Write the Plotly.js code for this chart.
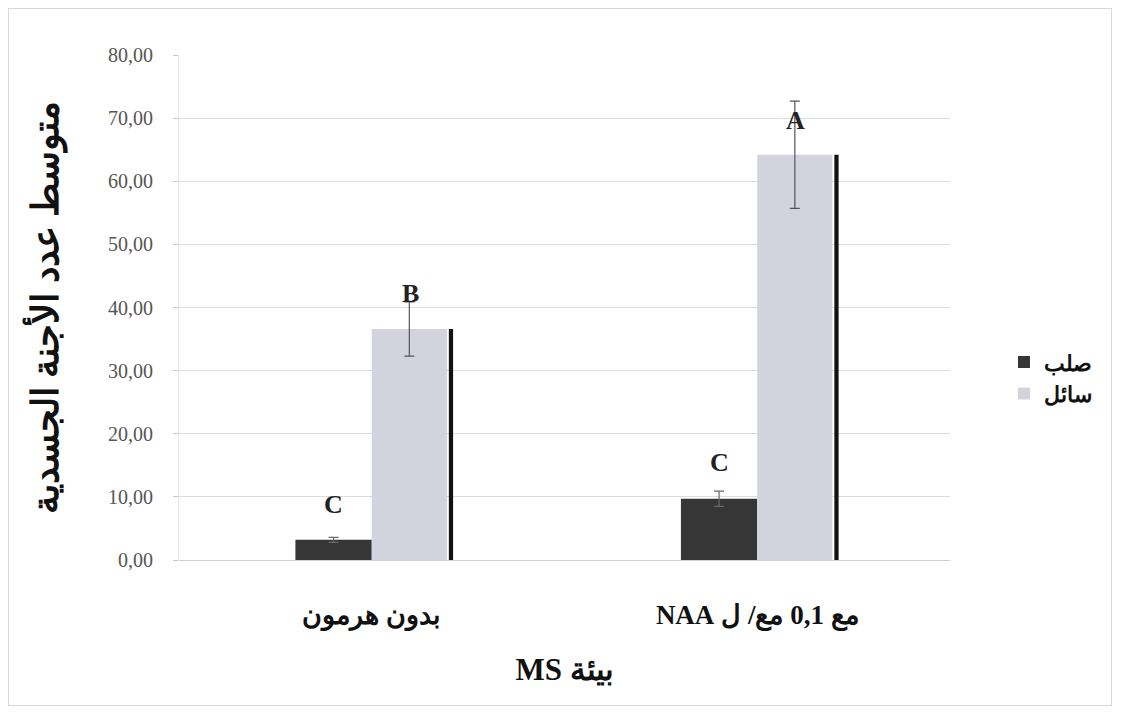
<!DOCTYPE html>
<html>
<head>
<meta charset="utf-8">
<script src="https://cdn.plot.ly/plotly-3.0.1.min.js"></script>
<style>
  html, body { margin: 0; padding: 0; background: #ffffff; }
  #wrap { position: relative; width: 1122px; height: 716px; overflow: hidden; }
  #chart { width: 1122px; height: 716px; }
  #frame { position: absolute; left: 8px; top: 8px; width: 1104px; height: 698px;
           border: 1px solid #d8d8d8; pointer-events: none; box-sizing: border-box; }
</style>
</head>
<body>
<div id="wrap">
  <div id="chart"></div>
  <div id="frame"></div>
</div>
<script>
// ---- data ----
const RLE = "\u202B", PDF = "\u202C";
const categories = ["بدون هرمون", "مع 0,1 مع/ ل NAA"];
const seriesNames = ["صلب", "سائل"];
const solidMeans = [3.2, 9.7];
const solidErr = [0.4, 1.2];
const liquidMeans = [36.6, 64.2];
const liquidErr = [4.3, 8.5];
const solidLetters = ["C", "C"];
const liquidLetters = ["B", "A"];
const yTitle = "متوسط عدد الأجنة الجسدية";
const xTitle = "بيئة MS";

// ---- styles ----
const rtl = s => RLE + s + PDF;
const serif = "Liberation Serif, Times New Roman, DejaVu Serif, serif";
const solidShift = [16, 12];
const liquidShift = [-8, -36];

const cats = categories.map(rtl);

const traces = [
  {
    type: "bar", name: rtl(seriesNames[0]), x: cats, y: solidMeans,
    width: 0.198, offset: -0.198,
    marker: { color: "#363636" },
    error_y: { type: "data", array: solidErr, visible: true, color: "#6a6a6a", thickness: 1.2, width: 5 },
    hoverinfo: "y"
  },
  {
    type: "bar", name: rtl(seriesNames[1]), x: cats, y: liquidMeans,
    width: 0.195, offset: 0.0,
    marker: { color: "#d3d3de" },
    error_y: { type: "data", array: liquidErr, visible: true, color: "#555555", thickness: 1.2, width: 5 },
    hoverinfo: "y"
  },
  {
    type: "bar", name: "", x: cats, y: liquidMeans, showlegend: false,
    width: 0.011, offset: 0.2,
    marker: { color: "#111111" },
    hoverinfo: "skip"
  }
];

const annotations = [];
categories.forEach((c, i) => {
  annotations.push({
    x: cats[i], y: solidMeans[i] + solidErr[i], xref: "x", yref: "y",
    text: solidLetters[i], showarrow: false, xshift: -0.099 * 385, yshift: solidShift[i],
    yanchor: "bottom", font: { family: serif, size: 26, color: "#222", weight: "bold" }
  });
  annotations.push({
    x: cats[i], y: liquidMeans[i] + liquidErr[i], xref: "x", yref: "y",
    text: liquidLetters[i], showarrow: false, xshift: 0.1 * 385, yshift: liquidShift[i],
    yanchor: "bottom", font: { family: serif, size: 26, color: "#222", weight: "bold" }
  });
});

const layout = {
  width: 1122, height: 716,
  margin: { l: 179, r: 172, t: 55, b: 156 },
  paper_bgcolor: "rgba(0,0,0,0)",
  plot_bgcolor: "#ffffff",
  separators: ", ",
  barmode: "overlay",
  showlegend: true,
  legend: {
    x: 1.07, y: 0.36, xanchor: "left", yanchor: "middle",
    font: { family: serif, size: 22, color: "#111", weight: "bold" },
    tracegroupgap: 14, itemwidth: 30,
    bgcolor: "rgba(0,0,0,0)"
  },
  xaxis: {
    type: "category",
    tickfont: { family: serif, size: 27, color: "#111", weight: "bold" },
    ticklabelstandoff: 36,
    showline: false, showgrid: false, zeroline: false, ticks: "",
    title: { text: rtl(xTitle), font: { family: serif, size: 31, color: "#111", weight: "bold" }, standoff: 27 }
  },
  yaxis: {
    range: [0, 80], dtick: 10, tickformat: ".2f",
    tickfont: { family: serif, size: 20, color: "#555" },
    showgrid: true, gridcolor: "#dcdcdc", gridwidth: 1,
    zeroline: true, zerolinecolor: "#cfcfcf", zerolinewidth: 1,
    showline: true, linecolor: "#e4e4e4", linewidth: 1,
    ticks: "outside", ticklen: 5, tickcolor: "#c8c8c8",
    ticklabelstandoff: 16,
    title: { text: rtl(yTitle), font: { family: serif, size: 37, color: "#111", weight: "bold" }, standoff: 38 }
  },
  annotations: annotations
};

Plotly.newPlot("chart", traces, layout, { displayModeBar: false, staticPlot: true });
</script>
</body>
</html>
